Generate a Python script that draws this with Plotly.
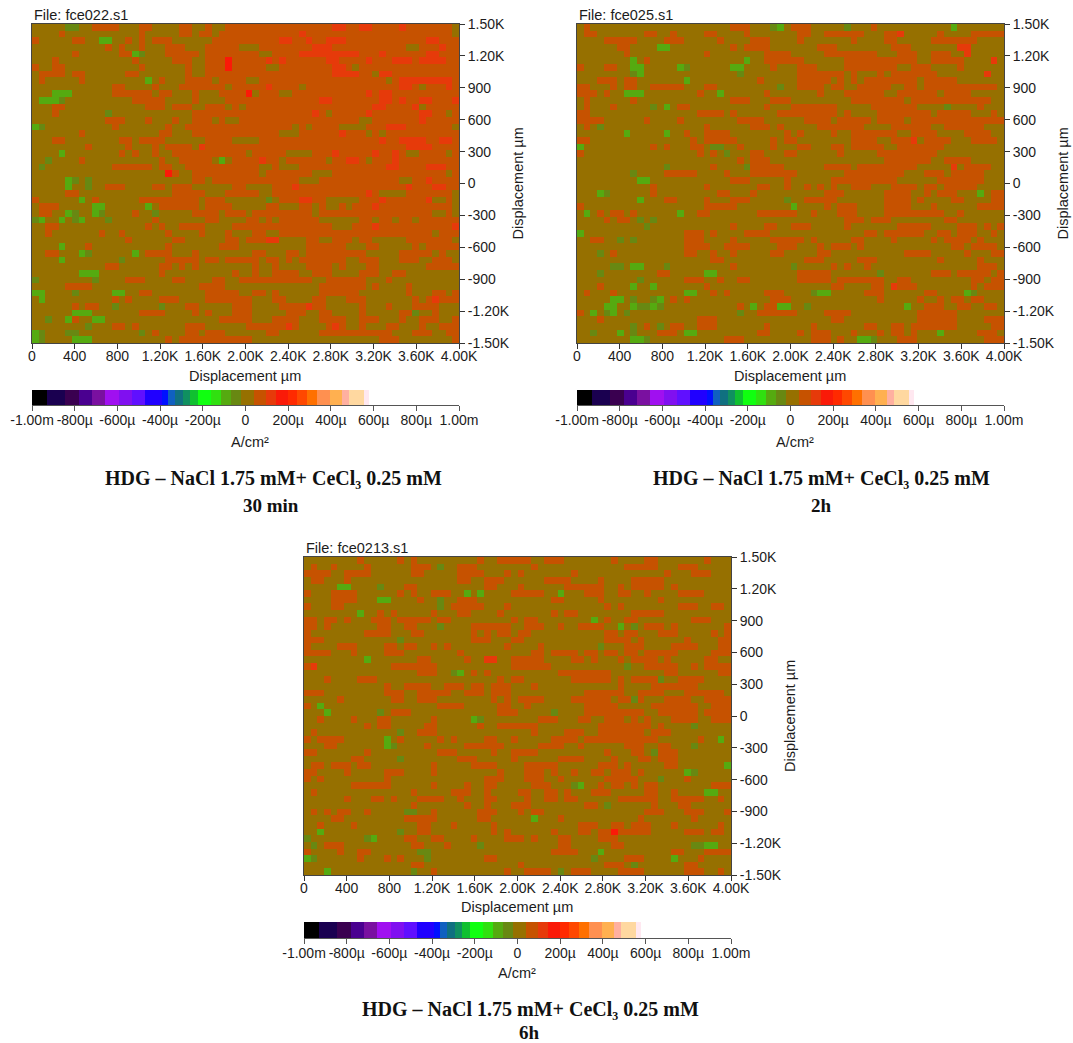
import numpy as np
import plotly.graph_objects as go

W, H = 1073, 1043
NX, NY = 64, 48

# Each row lists the cells that differ from the olive base level.
# Token: [level letter]col or col-col; no letter = orange, later tokens override earlier.
PANEL1_ROWS = [
"d5-6 9-12 16-17 22-23 26 29-33 34-63 r45-46 r49-50 r55 .63",
"4 16 22-23 25-26 28-33 34-63 r40 .63",
"0 6-7 g10-11 14 16 18-20 27-33 34-63 r37-38 r41 r44-46 r59-60",
"11 13 16 20-22 26-30 34-63 r42-44 .56-57 r61",
"6 13-14 g15 d16 20-24 26-33 34-63 .34-35 r40-48 r52 r59-60",
"3 15 21-23 26-33 R29 34-63 r35 r37 r44-45 r50 r54-56 r58-61",
"0 3-4 16 23 26-28 R29 30-33 34-63 .35-36 r45-46 .48",
"1-4 6-7 14-15 23 26-33 34-63 r45-48 .51 r52-53",
"1 7 g17 19 23-26 28-31 34-63 .53 r55-62",
"12-13 18 22-25 26-28 30-33 34-63 r35 .40 r55-56 .58 r62",
"g3-5 12-17 19-20 24 28-31 R32 34-63 .37-38 r50 r52-53",
"g1-3 d4 15-19 24 29-33 34-63 r43-44 r52-53 r55 r58-59 r63",
"3-4 17-19 21-23 26-28 30 32-33 34-63 r51-52 r57 .58",
"3 d11 24-26 27-29 30-33 34-63 r42 .44 r50 r58-59 .62",
"11-13 17 21 24-26 28 31-33 34-63 .49-50 r58",
"g0 d1 12 20 23-33 34-63 .39 .41 .46-49 r53-55 .63",
"7 19-20 24-25 26-33 34-63 .37-39 r46 .50 .52",
"3-4 13-14 16-19 26-29 34-63 r52 r55-58 r61-62",
"8 14 18 20-23 25-33 r25 34-63 r56-59",
"g4 13 15 18 21-31 33 34-63 .38-41 r45 r51 r54 .56-57 .62",
"d2 7 19 22-26 g28 30-33 34-63 r34 .37 .44 r47-48 .50 r54",
"d1 12-17 19-20 23-33 34-63 .34-35 .37-39 r53-54 r59-61",
"20-21 R20 24-33 34-63 .34 .42-44 .62",
"g5 d6 d8 24-25 27-33 34-63 .40-42 .55-56 r59",
"g5 d8 11-13 18-19 21-23 30-31 32-63 .32-35 r39 r56 r60-61",
"5-6 21-25 29-31 32-63 .34-35 r50 .52-55 .63",
"0 g7 9 16-20 21-24 26-28 32-63 .32-36 d35 r40-41 .44-48 r52 r59 .60-61 .63",
"1-3 g9-10 g17 19-24 26-29 32-63 .32-34 .37-39 .42 .44-45 .47 r51 .63",
"1-2 g5 d6 g9 d10 15 d18 24-27 29-31 32-63 .32 .42 .60-61 .63",
"d0 g1 g4 d6 g7 d11 18 26-27 32-63 .34 .36 .43-48 .51 .54 .57",
"2-3 17 19 22-25 30-31 32-63 .45-47 r51 r63",
"2 10 13 20 25 29 32-63 .32 .35-36 .60",
"14 21-22 29-30 32-63 r35-36 .37-40 .43-44 .48 .51-55 .63",
"g4 8 20 28-30 32-63 .32-40 .47-49 .52-56 .58",
"2-3 g7 d8 g15 17-20 24 32-63 .32 .35-37 .40 .50-54 .60 .62-63",
"g4 d13 20-23 24 26-27 29-31 32-63 .34 .37 .39 .47-48 .52-54 .58-59 .63",
"11-12 19-20 22 24 32-63 .32 .34-35 .37-40 .45 .47-49 .52-58",
"g7-9 19 30 32-63 .32 .34-35 .40-41 .45-48 .52-53 .56-63",
"d0 d9 14-16 21-22 27-28 31 32-63 .42-43 .50-52 .54-63",
"5-8 25-28 32-63 .32-42 .50 .52-55 .57-63",
"g0-1 d6 g12-13 16-17 26-30 32-63 .32 .35 .37-42 .49-55 .57-59 .62",
"g1 12 14 19-21 26-31 32-63 .33-35 .38-41 .44-46 .50-56 .58 r60",
"6 8-9 d12 d19 23-24 30-31 32-63 .33-36 r41 .44-48 .50-52 .54-56 .61-63",
"g6-8 16-19 24 26 30-31 32-63 .33-37 .41-42 .45-48 .50-54 d57 .58-59 .61-63",
"d2 g5 6 g9-10 28-31 32-63 .33-35 .40-42 .47-48 .52-54 .56-57 .61-62",
"d8 12-13 15 23-25 32-63 r38 .40-43 r45 .47-48 .50-52 .55-57 .59-60",
"g0 d1 d5-6 d16 18 23-24 26-28 32-63 .32-34 .37-42 .54-56 .60-61",
"g0 d1 g6-8 20 22-31 32 52-54 63",
]

PANEL2_ROWS = [
"1 23-25 d29 g30 32-34 d40 44 g56",
"1-2 10-11 14 19-20 25 33-34 37-42 46-48 r48 54 59-63",
"4-8 13-15 21 26-28 33 41 46-47 53-59",
"6-7 g12-13 23 25-28 36-38 47-49 57 r57-58",
"7 19 28-31 37-44 48-50 53-55 r58",
"g8 10 g25 28-33 40-46 47-50 53-57 r62",
"0 4-5 g8-9 g15 d16 g23-24 29 33-35 40-47 50-52 57",
"d8 g9 d24 33-39 41 45 47-53 r61",
"3-5 7-8 g16 27 33-37 39 41 43-50 52-56",
"0-1 5 7-8 11-15 19-20 d30 33-36 38-39 42-46 49-50 52-62",
"0-2 4 g7-9 18 g21 28 36 40-45 48-53 55-58",
"1 8 23-25 29-31 41-48 50-61",
"1 5 d11 g13 15-16 28 32-38 44-50 d55 60",
"0-1 18-21 23 30-33 34-38 40 45-52 54-58 62",
"0-3 10 15 24-27 34-37 39-43 45-48 50-63",
"1 d3 19 26-28 30 36-42 47-52 55-60",
"g7 g13 16 19-22 31 33 38 41-46 47 50-53 58-61",
"0-1 17 19-23 29 31-32 41-44 47-50 r50 52-55 59-62",
"g0 11 13 17-18 d20-21 24 29 33-34 38-39 41-45 48-54",
"0 18 20 d22 26-27 31-32 39 45-53",
"24 26-28 46-52 55-58",
"d13 20 d25 26-30 37-40 42-50 r56 58-61",
"d8 13-17 22 26-30 31-32 40-48 52-54 56-60",
"g9-10 23-25 31 38-47 54-60",
"11 19 27-28 31 34 36 38 41-43 47-50 52-53 55-59",
"g3 d4 11 21-22 26 37-39 46-49 52 54-56 g60 62-63",
"g9 13-14 19 23-25 d31 34-36 37-38 46-49 51 56-57 62-63",
"0 19-23 g32 37 39-41 46-49 53 60-63",
"g1 3 5-6 8 g15 18-19 27-32 35 39-41 46-54 57",
"4 6-7 d9 d11 40-41 42 44-46 55-56",
"d10 23 28-29 32-34 40 48-52 57-59 61 63",
"g0 16-18 20 25-27 28 43-44 46-51 54-55 57-59 62",
"2-3 d6 d8 16-18 23 29-33 35 41-42 47 53 55-58 60",
"16-19 22-25 30-32 36 38-40 42 56-57 59-62",
"d3 5 16-17 20 23 29-30 36-37 49-52 58 62-63",
"20-21 34-36 42-44 54 60",
"d5-6 g8-9 d13 23 d32 38 40 43 60-62",
"d3 12-13 g19-20 33-37 d45 53-55 57-61 63",
"d9 16-18 21 24-25 33-37 39-45 48-49 59-60 62-63",
"3 g8 g11 19 38-39 44-45 r47 48-50 59 61-63",
"1 5 g16-17 20 22 28-30 d35 g36-37 43-45 52-53 g58 d59",
"g5-6 d8 d11 g12 14 16 29-31 45 51 54 56-57 59-60",
"g4-5 g8 d9-10 g11 d12 24 g26 28-29 g30-31 d34 g49 52-54 57-58 61-62",
"0 g2 d4 g5 d7 d24 27-32 37-40 51-56",
"3 18-20 38-39 51-56 61-63",
"d8 10 d12 14-15 18-20 28 35 43-44 47-48 50-56 62-63",
"d2 g6 d8 12-14 g16-17 27-28 33 35-37 41 45 47-48 50 g54 60-62",
"g8-9 d10 22-24 35-37 39 g42-43 d44 48-50 61-63",
]

PANEL3_ROWS = [
"8 14 16 26 29-33 36-38 46 51-52 60",
"1 4 9 16-18 d20 23-25 34 48-52 56-58",
"0-3 6-9 16-17 23-26 30 32 40 54 58-60",
"1-2 6 23-24 27-29 36-39 44 49-53",
"g5-6 d11 15-16 27-28 32 39-44 47 49-53 55",
"0 4-7 14 16 19-21 g24 g26 31-35 g38 42-44 47-48 51 56-59",
"4-7 g11-12 17 d20 23-25 37-38 44 53",
"0 4-5 d20 22-26 30 45 47 56-58 61-62",
"g8 11 13 19 23-24 29 37 39-40 49-53",
"0-1 3-4 6 10-12 14-18 20-21 31 33-34 g43 45 48-49 58-60",
"0-1 3 11-12 15-16 d20 25-30 33-35 38 41-44 g47 d49 51-53 55 63",
"0 9-12 16-17 25 27 29-30 32-33 45-46 48-49 53-55 61 63",
"0-2 d14 25-27 31-32 45-48 50 57 62-63",
"0 5-7 12-13 15-16 19 21 30 35 d44 48-50 55-58 62-63",
"0-3 7 12-14 23 34-35 37-40 42-43 45-46 48-49 51-55 61-63",
"g9 17-18 24 r27-28 31-35 40-41 43 47 49-52 54 60-61",
"0-1 r1 13-19 31-36 d48 51-55 58 60-63",
"17-19 d22 g23 25 27 38-45 54-55 62-63",
"3 8-10 29 31-32 40-45 47 49-52 d53 56-59",
"12 15-18 21-23 25-26 28-30 34 47 52-58",
"0-2 12-14 17-21 24-26 28-30 42-47 50-53 57-62",
"5 13-14 17-19 28 30 32-35 40-45 47-50 d49 54-57 60-63",
"0 g2 20-23 29-30 33 42-46 52-58 61-63",
"g3 d11 13-15 29-31 d37 42-50 53-58 60-63",
"2 7 11-12 19 g25 d26 35-37 41-42 45-47 49 51 55-58 61-63",
"9 11-12 18-19 26 29-34 44-51 53 d58",
"1 d14 17-19 34 39-41 44-50 52-54",
"0 2-5 g12 14 20 22 27-28 31 37-40 42-52 59 g62",
"3-4 g12 d13 18 24-29 35-38 41 48-50 53-54 d58",
"0-1 9 20-22 28 31-34 45 49-50 d52 53-55",
"7-8 d14 23-25 31 38-41 46 50-51 53-55",
"1-2 4-6 8-9 19 25-28 33-37 44-46 48 54-55 g63",
"0-1 6 12-14 19 29 33-35 37 40 43-44 46-48 50 g57 d58",
"0 2 12 27-29 33-35 38 45-49 d53 57",
"7-12 19 24 27-28 34-36 d40 g41 44 46-47 49 51-52 61-63",
"1 16 22-24 27 32-33 36-37 39 43-45 51-52 55 g60-61",
"6 10-11 13 17-20 23 27-28 33 36-37 39-40 47-52 55-59 62",
"16 24 27 31-33 42-43 d45 52 56-57",
"1 3 5-6 9 d15-16 19 26-28 32 34-35 51-53 57-59 63",
"4-5 15-19 26-27 g34 38 50 58",
"2 7 17-18 22 28 41-43 46-47 49-51 55 62",
"g2 d14 17-18 28 30 37 41-42 44-51 R46 57-59 61-62",
"d0 d9 g10 15-16 19-20 25 30-32 34 38-39 44-46",
"d1 3-5 16-17 21 d26 38-39 46-47 d58-59 g60-61",
"0 5 8-9 d17-18 37-40 g44 55-56 60-63",
"g0 d1 8 12 14 d18 27-28 d43 48-50 g55 59",
"16-17 32 45-47 d49 57-58",
"g3 d16 19 30 33-36 d38 40-42 47-50 57-59 62",
]

# Current density of each displayed level, A/cm2 in microamps
LEVEL_VALUES = {".": 10, "o": 70, "r": 120, "R": 170, "d": -45, "g": -90}

X_TICKS = [0, 400, 800, 1200, 1600, 2000, 2400, 2800, 3200, 3600, 4000]
X_LABELS = ["0", "400", "800", "1.20K", "1.60K", "2.00K", "2.40K", "2.80K", "3.20K", "3.60K", "4.00K"]
Y_TICKS = [1500, 1200, 900, 600, 300, 0, -300, -600, -900, -1200, -1500]
Y_LABELS = ["1.50K", "1.20K", "900", "600", "300", "0", "-300", "-600", "-900", "-1.20K", "-1.50K"]
BAR_TICKS = [-1000, -800, -600, -400, -200, 0, 200, 400, 600, 800, 1000]
BAR_LABELS = ["-1.00m", "-800\u00b5", "-600\u00b5", "-400\u00b5", "-200\u00b5", "0", "200\u00b5", "400\u00b5", "600\u00b5", "800\u00b5", "1.00m"]

BAND_EDGES = [-1000, -930, -847, -780, -718, -656, -594, -532, -470, -392, -361, -330, -291, -260, -222,
              -160, -113, -67, -20, 42, 96, 143, 197, 243, 290, 336, 398, 453, 484, 553, 577, 1000]
BAND_COLORS = ["#000000", "#1a0050", "#3a0050", "#4a0090", "#7a10a0", "#a010f0", "#8010f0", "#6010ff",
               "#2000ff", "#0010ff", "#1060c0", "#107080", "#109060", "#10c030", "#10ff10", "#30e010",
               "#55aa10", "#688812", "#967000", "#c65200", "#e63a0a", "#fa1a08", "#ff2a00", "#ff4800",
               "#ff7000", "#ff9050", "#ffb050", "#ffb0a0", "#ffd8a0", "#ffe8f0", "#ffffff"]

PANELS = [
    dict(rows=PANEL1_ROWS, name="File: fce022.s1", x0=32, y0=24, y1=343, bar=(390, 405), cap_x=273,
         cap2="30 min", cap2_x=271, title_x=517, xt=376, unit=(250, 442), cap_y=478, cap2_y=505),
    dict(rows=PANEL2_ROWS, name="File: fce025.s1", x0=577, y0=24, y1=343, bar=(390, 405), cap_x=821,
         cap2="2h", cap2_x=821, title_x=1062, xt=376, unit=(795, 442), cap_y=478, cap2_y=505),
    dict(rows=PANEL3_ROWS, name="File: fce0213.s1", x0=304, y0=557, y1=875, bar=(922, 938), cap_x=530,
         cap2="6h", cap2_x=529, title_x=790, xt=907, unit=(517, 973), cap_y=1009, cap2_y=1032),
]
CAPTION = "HDG \u2013 NaCl 1.75 mM+ CeCl\u2083 0.25 mM"
FONT = "Liberation Sans"
INK = "#1c1c1c"


def parse(rows):
    grid = np.full((NY, NX), float(LEVEL_VALUES["."]))
    for r, row in enumerate(rows):
        for tok in row.split():
            level = tok[0] if not tok[0].isdigit() else "o"
            span = tok if tok[0].isdigit() else tok[1:]
            a, _, b = span.partition("-")
            grid[r, int(a):int(b or a) + 1] = LEVEL_VALUES[level]
    return grid


scale = []
for i, c in enumerate(BAND_COLORS):
    scale.append([(BAND_EDGES[i] + 1000) / 2000, c])
    scale.append([(BAND_EDGES[i + 1] + 1000) / 2000, c])

PW = 427
fig = go.Figure()
layout = {}
notes = []


def px(x):
    return x / W


def py(y):
    return 1 - y / H


def note(text, x, y, size=14.5, anchor="center", family=FONT, bold=False, angle=0):
    notes.append(dict(text=text, x=px(x), y=py(y), xref="paper", yref="paper",
                      showarrow=False, xanchor=anchor, yanchor="middle", textangle=angle,
                      font=dict(family=family, size=size, color="#111111" if bold else INK,
                                weight="bold" if bold else "normal")))


tickfont = dict(family=FONT, size=14, color=INK)
for i, p in enumerate(PANELS):
    ax = 2 * i + 1
    xa, ya = f"x{ax}", f"y{ax}"
    xb, yb = f"x{ax + 1}", f"y{ax + 1}"
    fig.add_trace(go.Heatmap(z=parse(p["rows"]), x=np.linspace(0, 4000, NX + 1), y=np.linspace(1500, -1500, NY + 1),
                             colorscale=scale, zmin=-1000, zmax=1000, showscale=False, xaxis=xa, yaxis=ya,
                             hoverinfo="skip"))
    mids = [(BAND_EDGES[k] + BAND_EDGES[k + 1]) / 2 for k in range(len(BAND_COLORS))]
    fig.add_trace(go.Heatmap(z=[mids], x=BAND_EDGES, y=[0, 1], colorscale=scale, zmin=-1000, zmax=1000,
                             showscale=False, xaxis=xb, yaxis=yb, hoverinfo="skip"))
    dom_x = [px(p["x0"]), px(p["x0"] + PW)]
    common = dict(automargin=False, showgrid=False, zeroline=False, showline=True, linewidth=1, ticks="outside",
                  ticklen=5, tickmode="array", tickfont=tickfont)
    layout[f"xaxis{ax}"] = dict(domain=dom_x, range=[0, 4000], anchor=ya, tickvals=X_TICKS, ticktext=X_LABELS,
                                tickangle=0, tickcolor="#333333", mirror=True, linecolor="#444444",
                                ticklabelstandoff=-5, **common)
    layout[f"yaxis{ax}"] = dict(domain=[py(p["y1"]), py(p["y0"])], range=[-1500, 1500], anchor=xa, side="right",
                                tickvals=Y_TICKS, ticktext=Y_LABELS, tickcolor="#333333", mirror=True,
                                linecolor="#444444", **common)
    layout[f"xaxis{ax + 1}"] = dict(domain=dom_x, range=[-1000, 1000], anchor=yb, tickvals=BAR_TICKS,
                                    ticktext=BAR_LABELS, tickangle=0, tickcolor="#555555", linecolor="#555555",
                                    ticklabelstandoff=-3, **common)
    layout[f"yaxis{ax + 1}"] = dict(domain=[py(p["bar"][1]), py(p["bar"][0])], range=[0, 1], anchor=xb,
                                    visible=False, automargin=False)
    note(p["name"], p["x0"], p["y0"] - 9, anchor="left")
    note("Displacement \u00b5m", p["x0"] + 213, p["xt"])
    note("Displacement \u00b5m", p["title_x"], (p["y0"] + p["y1"]) / 2, angle=-90)
    note("A/cm\u00b2", p["unit"][0], p["unit"][1])
    note(CAPTION, p["cap_x"], p["cap_y"], size=20, family="Liberation Serif", bold=True)
    note(p["cap2"], p["cap2_x"], p["cap2_y"], size=19, family="Liberation Serif", bold=True)

fig.update_layout(width=W, height=H, autosize=False, margin=dict(l=0, r=0, t=0, b=0), paper_bgcolor="white",
                  plot_bgcolor="white", showlegend=False, annotations=notes, **layout)
fig.write_html("out.html", post_script="document.body.style.margin='0';", config={"displayModeBar": False})
